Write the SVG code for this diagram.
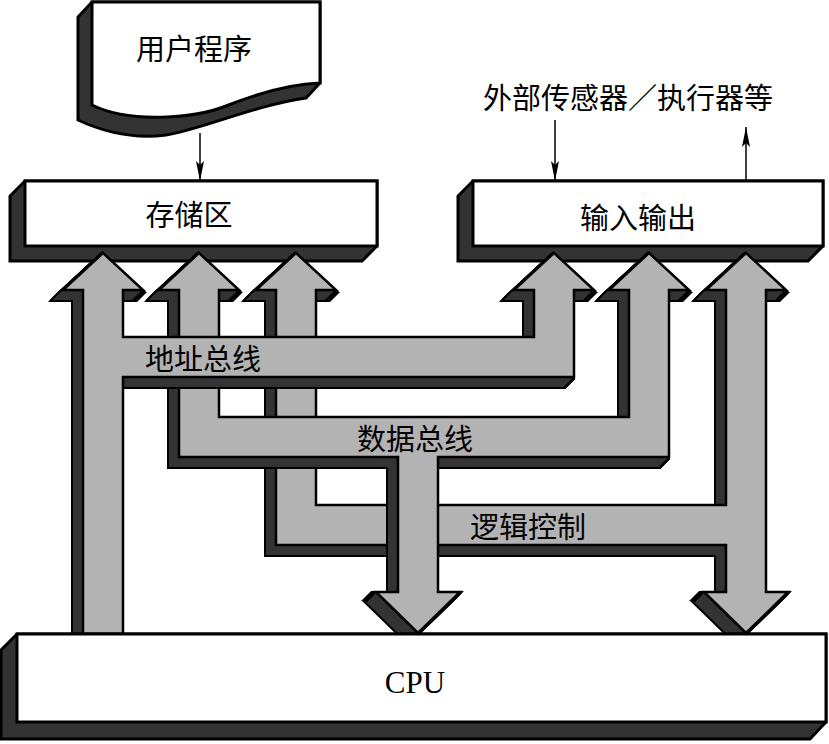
<svg xmlns="http://www.w3.org/2000/svg" xmlns:xlink="http://www.w3.org/1999/xlink" width="829" height="744" viewBox="0 0 829 744">
<style>
.bg{fill:#fff}
.box{fill:#fff;stroke:#000;stroke-width:3}
.shadow{fill:#333;stroke:#000;stroke-width:3;stroke-linejoin:miter}
.face{fill:#b3b3b3;stroke:#000;stroke-width:2.5;stroke-linejoin:miter}
.ext-o{fill:#000;stroke:#000;stroke-width:4;stroke-linejoin:miter}
.ext-f{fill:#333;stroke:none}
.lbl{font-family:"Noto Sans CJK SC","Noto Sans CJK TC",sans-serif;font-size:29px;fill:#000;text-anchor:middle;dominant-baseline:central}
.cpu{font-family:"Liberation Serif","Times New Roman",serif;font-size:31px;fill:#000;text-anchor:middle;dominant-baseline:central}
.thin{stroke:#000;stroke-width:1.5;fill:none;marker-end:url(#ah)}
</style>
<defs>
<marker id="ah" markerUnits="userSpaceOnUse" markerWidth="22" markerHeight="10" refX="20" refY="4" orient="auto">
<path d="M0,0 L20,4 L0,8 L4,4 Z" fill="#000"/>
</marker>
<path id="busA" d="M103,253 L143,290 L123,290 L123,337 L534,337 L534,290 L514,290 L554,253 L594,290 L574,290 L574,377 L123,377 L123,634 L83,634 L83,290 L63,290 Z"/>
<path id="busD" d="M199,253 L239,290 L219,290 L219,417 L629,417 L629,290 L609,290 L649,253 L689,290 L669,290 L669,457 L438,457 L438,592 L460,592 L418,633 L376,592 L398,592 L398,457 L179,457 L179,290 L159,290 Z"/>
<path id="busL" d="M296,253 L336,290 L316,290 L316,505 L726,505 L726,290 L706,290 L746,253 L786,290 L766,290 L766,592 L788,592 L746,633 L704,592 L726,592 L726,545 L276,545 L276,290 L256,290 Z"/>
</defs>
<rect class="bg" x="0" y="0" width="829" height="744"/>

<g id="user-program">
<path class="shadow" d="M92,2 L78,17 L78,120 C106,133 136,139 166,135 S256,105 306,98 L320,83 L320,2 Z"/>
<path class="box" d="M92,2 L320,2 L320,83 C290,84 256,94 226,106 S130,124 92,105 Z"/>
<text class="lbl" x="194" y="47">用户程序</text>
</g>

<g id="storage">
<polygon class="shadow" points="25,181 10,196 10,261 362,261 377,246 377,181"/>
<rect class="box" x="25" y="181" width="352" height="65"/>
<text class="lbl" x="189" y="213">存储区</text>
</g>

<g id="io">
<polygon class="shadow" points="473,181 458,196 458,261 808,261 823,246 823,181"/>
<rect class="box" x="473" y="181" width="350" height="65"/>
<text class="lbl" x="638" y="216">输入输出</text>
</g>

<g id="external">
<text class="lbl" x="628" y="96">外部传感器／执行器等</text>
</g>

<g id="connectors">
<line class="thin" x1="200" y1="133" x2="200" y2="181"/>
<line class="thin" x1="555" y1="120" x2="555" y2="181"/>
<line class="thin" x1="746" y1="181" x2="746" y2="127"/>

<g id="logic-bus">
<g class="ext-o">
<use xlink:href="#busL" transform="translate(-1,1)"/><use xlink:href="#busL" transform="translate(-2,2)"/><use xlink:href="#busL" transform="translate(-3,3)"/><use xlink:href="#busL" transform="translate(-4,4)"/><use xlink:href="#busL" transform="translate(-5,5)"/><use xlink:href="#busL" transform="translate(-6,6)"/><use xlink:href="#busL" transform="translate(-7,7)"/><use xlink:href="#busL" transform="translate(-8,8)"/><use xlink:href="#busL" transform="translate(-9,9)"/><use xlink:href="#busL" transform="translate(-10,10)"/>
</g>
<g class="ext-f">
<use xlink:href="#busL" transform="translate(-1,1)"/><use xlink:href="#busL" transform="translate(-2,2)"/><use xlink:href="#busL" transform="translate(-3,3)"/><use xlink:href="#busL" transform="translate(-4,4)"/><use xlink:href="#busL" transform="translate(-5,5)"/><use xlink:href="#busL" transform="translate(-6,6)"/><use xlink:href="#busL" transform="translate(-7,7)"/><use xlink:href="#busL" transform="translate(-8,8)"/><use xlink:href="#busL" transform="translate(-9,9)"/><use xlink:href="#busL" transform="translate(-10,10)"/>
</g>
<use xlink:href="#busL" class="face"/>
<text class="lbl" x="528" y="525">逻辑控制</text>
</g>

<g id="data-bus">
<g class="ext-o">
<use xlink:href="#busD" transform="translate(-1,1)"/><use xlink:href="#busD" transform="translate(-2,2)"/><use xlink:href="#busD" transform="translate(-3,3)"/><use xlink:href="#busD" transform="translate(-4,4)"/><use xlink:href="#busD" transform="translate(-5,5)"/><use xlink:href="#busD" transform="translate(-6,6)"/><use xlink:href="#busD" transform="translate(-7,7)"/><use xlink:href="#busD" transform="translate(-8,8)"/><use xlink:href="#busD" transform="translate(-9,9)"/><use xlink:href="#busD" transform="translate(-10,10)"/>
</g>
<g class="ext-f">
<use xlink:href="#busD" transform="translate(-1,1)"/><use xlink:href="#busD" transform="translate(-2,2)"/><use xlink:href="#busD" transform="translate(-3,3)"/><use xlink:href="#busD" transform="translate(-4,4)"/><use xlink:href="#busD" transform="translate(-5,5)"/><use xlink:href="#busD" transform="translate(-6,6)"/><use xlink:href="#busD" transform="translate(-7,7)"/><use xlink:href="#busD" transform="translate(-8,8)"/><use xlink:href="#busD" transform="translate(-9,9)"/><use xlink:href="#busD" transform="translate(-10,10)"/>
</g>
<use xlink:href="#busD" class="face"/>
<text class="lbl" x="415" y="437">数据总线</text>
</g>

<g id="address-bus">
<g class="ext-o">
<use xlink:href="#busA" transform="translate(-1,1)"/><use xlink:href="#busA" transform="translate(-2,2)"/><use xlink:href="#busA" transform="translate(-3,3)"/><use xlink:href="#busA" transform="translate(-4,4)"/><use xlink:href="#busA" transform="translate(-5,5)"/><use xlink:href="#busA" transform="translate(-6,6)"/><use xlink:href="#busA" transform="translate(-7,7)"/><use xlink:href="#busA" transform="translate(-8,8)"/><use xlink:href="#busA" transform="translate(-9,9)"/><use xlink:href="#busA" transform="translate(-10,10)"/>
</g>
<g class="ext-f">
<use xlink:href="#busA" transform="translate(-1,1)"/><use xlink:href="#busA" transform="translate(-2,2)"/><use xlink:href="#busA" transform="translate(-3,3)"/><use xlink:href="#busA" transform="translate(-4,4)"/><use xlink:href="#busA" transform="translate(-5,5)"/><use xlink:href="#busA" transform="translate(-6,6)"/><use xlink:href="#busA" transform="translate(-7,7)"/><use xlink:href="#busA" transform="translate(-8,8)"/><use xlink:href="#busA" transform="translate(-9,9)"/><use xlink:href="#busA" transform="translate(-10,10)"/>
</g>
<use xlink:href="#busA" class="face"/>
<text class="lbl" x="203" y="357">地址总线</text>
</g>
</g>

<g id="cpu">
<polygon class="shadow" points="17,634 1,650 1,739 810,739 826,722 826,634"/>
<rect class="box" x="17" y="634" width="809" height="88"/>
<text class="cpu" x="415" y="682">CPU</text>
</g>
</svg>
